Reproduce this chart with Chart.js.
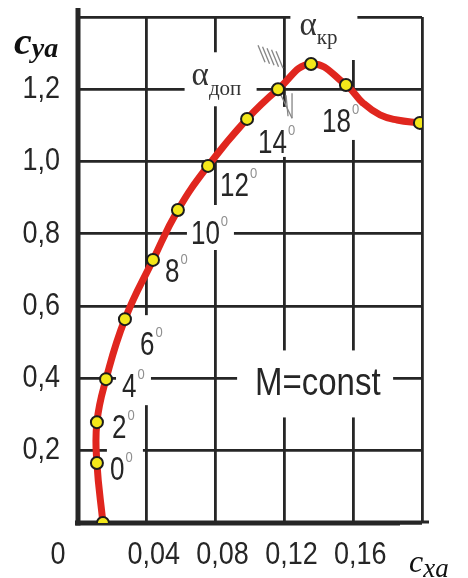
<!DOCTYPE html>
<html>
<head>
<meta charset="utf-8">
<script src="https://cdn.jsdelivr.net/npm/chart.js@4/dist/chart.umd.min.js"></script>
<style>
  html, body { margin: 0; padding: 0; background: #fff; }
  #wrap { width: 468px; height: 578px; position: relative; }
</style>
</head>
<body>
<div id="wrap"><canvas id="polar" width="468" height="578"></canvas></div>
<script>
// Wing polar: lift coefficient c_ya against drag coefficient c_xa at M = const.
// Marked points (angles of attack 0°..18° and beyond).
const cxa = [0.0145, 0.011, 0.011, 0.0163, 0.0273, 0.0436, 0.0581, 0.0756, 0.0983, 0.1163, 0.1355, 0.1558, 0.1988];
const cya = [0, 0.166, 0.279, 0.398, 0.564, 0.728, 0.866, 0.988, 1.118, 1.2, 1.27, 1.212, 1.107];
const angleLabels = ['', '0', '2', '4', '6', '8', '10', '12', '14', '', '', '18', ''];
// Extra points along the stalled tail of the curve (between 18° and the last marker)
const tailX = [0.1657, 0.1756, 0.1855];
const tailY = [1.162, 1.129, 1.115];
// Axes
const xTicks = [0, 0.04, 0.08, 0.12, 0.16, 0.2];
const xTickLabels = ['0', '0,04', '0,08', '0,12', '0,16', ''];
const yTicks = [0, 0.2, 0.4, 0.6, 0.8, 1.0, 1.2, 1.4];
const yTickLabels = ['', '0,2', '0,4', '0,6', '0,8', '1,0', '1,2', ''];

const markers = cxa.map((x, i) => ({ x, y: cya[i] }));
const trace = markers.slice(0, 12)
  .concat(tailX.map((x, i) => ({ x, y: tailY[i] })))
  .concat(markers.slice(12));

const INK = '#262626';
const SANS = '"Liberation Sans", Arial, sans-serif';
const SERIF = '"Liberation Serif", "Times New Roman", serif';

function text(ctx, s, x, y, font, o) {
  o = o || {};
  ctx.save();
  ctx.font = font;
  ctx.fillStyle = o.color || INK;
  ctx.textAlign = o.align || 'left';
  ctx.textBaseline = o.baseline || 'alphabetic';
  ctx.translate(x, y);
  ctx.scale(o.sx || 1, o.sy || 1);
  ctx.fillText(s, 0, 0);
  const w = ctx.measureText(s).width * (o.sx || 1);
  ctx.restore();
  return w;
}

// label placement relative to its point: [dx to text left, dy to baseline]
const labelOffset = {
  '0': [13, 17], '2': [15, 16], '4': [16, 18], '6': [15, 36], '8': [12, 22],
  '10': [13, 34], '12': [12, 30], '14': [11, 34], '18': [-24, 47]
};
// white gaps cut in the grid behind some labels, relative to the label anchor [x0, y0, x1, y1]
const labelGap = {
  '0': [-3, -36, 33, -20],
  '4': [-6, -29, 28, -9],
  '6': [-2, -40, 11, 50],
  '10': [-4, -39, 43, 6],
  '14': [-2, -46, 34, 4],
  '18': [-2, -40, 38, 8]
};

function seg(ctx, x0, y0, x1, y1) {
  ctx.beginPath();
  ctx.moveTo(x0, y0);
  ctx.lineTo(x1, y1);
  ctx.stroke();
}

const decor = {
  id: 'decor',
  beforeDatasetsDraw(chart) {
    const { ctx, scales: { x, y } } = chart;
    const px = v => x.getPixelForValue(v);
    const py = v => y.getPixelForValue(v);
    ctx.save();
    ctx.fillStyle = '#ffffff';
    // gaps behind angle labels
    markers.forEach((m, i) => {
      const g = labelGap[angleLabels[i]];
      if (!g) return;
      const o = labelOffset[angleLabels[i]];
      const ax = px(m.x) + o[0], ay = py(m.y) + o[1];
      ctx.fillRect(ax + g[0], ay + g[1], g[2] - g[0], g[3] - g[1]);
    });
    // gap behind alpha_dop (anchored at the 1.2 / 0.08 crossing)
    ctx.fillRect(px(0.08) - 31, py(1.2) - 37, 72, 54);
    // gap behind alpha_kr in the top border
    ctx.fillRect(px(0.12) + 6, py(1.4) - 8, 67, 51);
    // gap behind M=const
    ctx.fillRect(px(0.0925), py(0.4) - 28, 156, 67);

    // axes
    ctx.strokeStyle = INK;
    ctx.lineCap = 'butt';
    ctx.lineWidth = 5;
    seg(ctx, px(0), py(1.4) - 9, px(0), py(0) + 2.5);
    seg(ctx, px(0) - 3, py(0), px(0.1872), py(0));
    ctx.lineWidth = 3;
    seg(ctx, px(0.1872), py(0) - 1, px(0.2) + 7, py(0) - 1);

    // hatched limit mark at alpha_dop
    const hx = px(cxa[9]), hy = py(cya[9]);
    ctx.strokeStyle = '#858585';
    ctx.lineWidth = 1.3;
    // upper hatch row
    for (let k = 0; k < 5; k++) {
      const bx = hx - 20 + k * 4.5, by = hy - 44 + k * 1.5;
      seg(ctx, bx, by, bx + 7, by + 17);
    }
    // lower hatch below the point
    seg(ctx, hx + 2, hy + 4, hx + 14, hy + 29);
    seg(ctx, hx + 8, hy + 6, hx + 10, hy + 27);
    seg(ctx, hx + 14, hy + 4, hx + 14, hy + 29);
    ctx.restore();
  },
  afterDatasetsDraw(chart) {
    const { ctx, scales: { x, y }, chartArea } = chart;
    const px = v => x.getPixelForValue(v);
    const py = v => y.getPixelForValue(v);

    // tick labels
    yTicks.forEach((v, i) => {
      if (!yTickLabels[i]) return;
      text(ctx, yTickLabels[i], chartArea.left - 18, py(v), '27px ' + SANS,
        { align: 'right', baseline: 'middle', sy: 1.17 });
    });
    xTicks.forEach((v, i) => {
      if (!xTickLabels[i]) return;
      const cx = v === 0 ? chartArea.left - 20 : px(v) + 7;
      text(ctx, xTickLabels[i], cx, py(0) + 41, '27px ' + SANS,
        { align: 'center', sy: 1.17 });
    });

    // angle-of-attack labels
    markers.forEach((m, i) => {
      const s = angleLabels[i];
      if (!s) return;
      const o = labelOffset[s];
      const ax = px(m.x) + o[0], ay = py(m.y) + o[1];
      const w = text(ctx, s, ax, ay, '26px ' + SANS, { sy: 1.25 });
      text(ctx, '0', ax + w + 1, ay - 18, '13px ' + SANS, { color: '#909090', sy: 1.15 });
    });

    // alpha labels
    const ad = { x: px(0.08) - 24, y: py(1.2) - 4 };
    const wa = text(ctx, 'α', ad.x, ad.y, '33px ' + SERIF, { color: '#333' });
    text(ctx, 'доп', ad.x + wa, ad.y + 10, '21px ' + SERIF, { color: '#333' });
    const ak = { x: px(0.12) + 15, y: py(1.4) + 18 };
    const wk = text(ctx, 'α', ak.x, ak.y, '33px ' + SERIF, { color: '#333' });
    text(ctx, 'кр', ak.x + wk, ak.y + 9, '21px ' + SERIF, { color: '#333' });

    // regime note
    text(ctx, 'M=const', px(0.1029), py(0.4) + 17, '33px ' + SANS, { sy: 1.2 });

    // axis titles
    const wc = text(ctx, 'c', 14, 54, 'bold italic 38px ' + SERIF, { color: '#111', sx: 1.05 });
    text(ctx, 'ya', 14 + wc, 57, 'bold italic 28px ' + SERIF, { color: '#111' });
    const wx = text(ctx, 'c', 409, 572, 'italic 32px ' + SERIF, { color: '#111' });
    text(ctx, 'xa', 409 + wx, 577, 'italic 27px ' + SERIF, { color: '#111' });
  }
};

new Chart(document.getElementById('polar'), {
  type: 'scatter',
  data: {
    datasets: [
      {
        data: markers,
        showLine: false,
        pointRadius: 6,
        pointHoverRadius: 6,
        pointBackgroundColor: '#f3e71a',
        pointBorderColor: '#1c1c1c',
        pointBorderWidth: 2,
        order: 0
      },
      {
        data: trace,
        showLine: true,
        tension: 0.45,
        borderColor: '#e0261e',
        borderWidth: 7,
        borderCapStyle: 'round',
        borderJoinStyle: 'round',
        pointRadius: 0,
        order: 1
      }
    ]
  },
  options: {
    responsive: false,
    animation: false,
    events: [],
    layout: { padding: { left: 78, right: 46, top: 17, bottom: 55 } },
    plugins: { legend: { display: false }, tooltip: { enabled: false } },
    scales: {
      x: {
        type: 'linear', min: 0, max: 0.2,
        afterBuildTicks: s => { s.ticks = xTicks.map(v => ({ value: v })); },
        ticks: { display: false },
        grid: { color: INK, lineWidth: 2.8, drawTicks: false },
        border: { display: false }
      },
      y: {
        type: 'linear', min: 0, max: 1.4,
        afterBuildTicks: s => { s.ticks = yTicks.map(v => ({ value: v })); },
        ticks: { display: false },
        grid: { color: INK, lineWidth: 2.8, drawTicks: false },
        border: { display: false }
      }
    }
  },
  plugins: [decor]
});
</script>
</body>
</html>
